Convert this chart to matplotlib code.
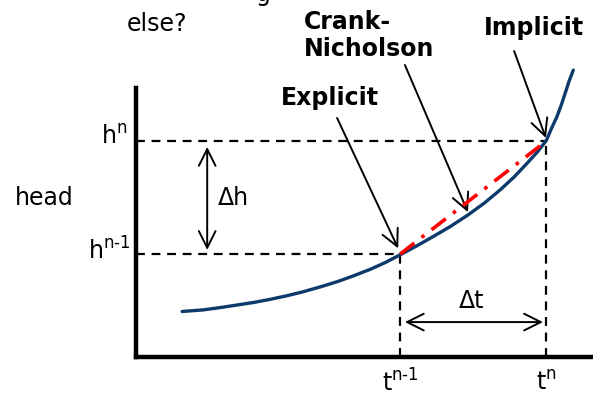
import matplotlib
matplotlib.use("Agg")
import matplotlib.pyplot as plt

# head curve (arbitrary units)
time = [0.96, 1.39, 1.75, 2.10, 2.45, 2.79, 3.14, 3.47, 3.83, 4.18, 4.51,
        4.87, 5.18, 5.49, 5.84, 6.18, 6.53, 6.90, 7.24, 7.57, 7.86, 8.13,
        8.34, 8.53, 8.63, 8.75, 8.84, 8.92, 9.00, 9.09]
head = [1.76, 1.82, 1.91, 2.01, 2.11, 2.23, 2.37, 2.52, 2.71, 2.91, 3.13,
        3.39, 3.65, 3.95, 4.30, 4.66, 5.04, 5.49, 5.95, 6.46, 6.96, 7.49,
        7.92, 8.37, 8.81, 9.29, 9.74, 10.19, 10.65, 11.09]

t_prev, t_n = 5.49, 8.53
h_prev, h_n = 3.98, 8.35

labels = ["Explicit", "Crank-\nNicholson", "Implicit"]

navy = "#0b3a6b"
fs = 17

fig = plt.figure(figsize=(5.93, 3.99), dpi=100)
ax = fig.add_axes([136 / 593, 42 / 399, 457 / 593, 269 / 399])
ax.set_xlim(0, 9.5)
ax.set_ylim(0, 10.4)
for s in ["top", "right"]:
    ax.spines[s].set_visible(False)
for s in ["left", "bottom"]:
    ax.spines[s].set_linewidth(3.2)
ax.set_xticks([])
ax.set_yticks([])

# dashed guide lines
dash = dict(color="black", lw=1.6, ls=(0, (4, 3)), clip_on=False)
ax.plot([0, t_n], [h_n, h_n], **dash)
ax.plot([0, t_prev], [h_prev, h_prev], **dash)
ax.plot([t_prev, t_prev], [0, h_prev], **dash)
ax.plot([t_n, t_n], [0, h_n], **dash)

# curve and chord
ax.plot(time, head, color=navy, lw=2.4, clip_on=False, zorder=3,
        solid_joinstyle="round", solid_capstyle="round")
ax.plot([t_prev, t_n], [h_prev, h_n], color="red", lw=2.6,
        ls=(0, (5, 2.5, 1, 2.5)), zorder=4)

arrow = dict(arrowstyle="->,head_length=0.6,head_width=0.3", color="black",
             lw=1.4, mutation_scale=20, shrinkA=0, shrinkB=0)
two = dict(arrowstyle="<->,head_length=0.6,head_width=0.3", color="black",
           lw=1.4, mutation_scale=20, shrinkA=0, shrinkB=0)

# delta arrows
ax.annotate("", xy=(1.48, 8.12), xytext=(1.48, 4.14), arrowprops=two,
            annotation_clip=False)
ax.text(1.7, 6.15, "Δh", fontsize=fs, ha="left", va="center")
ax.annotate("", xy=(5.59, 1.35), xytext=(8.46, 1.35), arrowprops=two,
            annotation_clip=False)
ax.text(6.98, 2.16, "Δt", fontsize=fs, ha="center", va="center")

# method labels and arrows
ax.annotate("", xy=(5.45, 4.2), xytext=(4.18, 9.24), arrowprops=arrow,
            annotation_clip=False)
ax.text(4.03, 10.0, labels[0], fontsize=fs, fontweight="bold",
        ha="center", va="center")
ax.annotate("", xy=(6.9, 5.6), xytext=(5.59, 11.29), arrowprops=arrow,
            annotation_clip=False)
ax.text(3.5, 12.42, labels[1], fontsize=fs, fontweight="bold",
        ha="left", va="center", linespacing=1.15)
ax.annotate("", xy=(8.52, 8.47), xytext=(7.86, 11.83), arrowprops=arrow,
            annotation_clip=False)
ax.text(8.27, 12.72, labels[2], fontsize=fs, fontweight="bold",
        ha="center", va="center")

ax.text(-0.19, 12.87, "else?", fontsize=fs, ha="left", va="center")
ax.text(2.64, 14.05, "g", fontsize=fs, ha="center", va="center")

# axis labels
ax.text(-1.91, 6.15, "head", fontsize=fs, ha="center", va="center")
ax.text(-0.17, h_n + 0.15, r"$\mathregular{h^{n}}$", fontsize=fs,
        ha="right", va="center")
ax.text(-0.12, h_prev + 0.1, r"$\mathregular{h^{n‐1}}$", fontsize=fs,
        ha="right", va="center")
ax.text(t_prev, -1.0, r"$\mathregular{t^{n‐1}}$", fontsize=fs,
        ha="center", va="center")
ax.text(t_n, -1.0, r"$\mathregular{t^{n}}$", fontsize=fs,
        ha="center", va="center")

fig.savefig("out.png", dpi=100)
